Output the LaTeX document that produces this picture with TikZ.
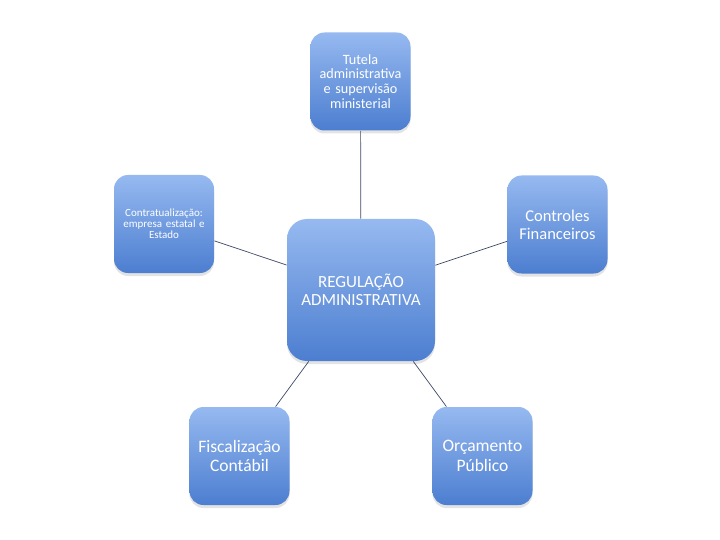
\documentclass[tikz,border=0pt]{standalone}
\usepackage{fontspec}
\setmainfont{Carlito}
\usetikzlibrary{shadows}
\definecolor{boxtop}{RGB}{150,185,240}
\definecolor{boxbot}{RGB}{76,126,208}
\definecolor{linkcol}{RGB}{60,72,100}

\begin{document}
\begin{tikzpicture}[x=1pt,y=-1pt,-,thick,
  box node/.style={rounded corners=14pt,top color=boxtop,bottom color=boxbot,draw=none,
    text=white,align=center,inner sep=2pt,
    drop shadow={opacity=0.22,shadow xshift=0pt,shadow yshift=-3pt}},
  small box/.style={box node,minimum width=99pt,minimum height=98pt,text width=96pt},
  link/.style={draw=linkcol,line width=0.7pt}]

            \useasboundingbox (0,0) rectangle (720,540);

            \node[box node,minimum width=148pt,minimum height=142pt,rounded corners=20pt,
              font=\fontsize{17}{18.5}\selectfont] (reg) at (361,290) {REGULAÇÃO\\ADMINISTRATIVA};
            \node[small box,font=\fontsize{14.2}{14.8}\selectfont] (tutela) at (360.5,81.5) {Tutela\\administrativa\\e supervisão\\ministerial};
            \node[small box,font=\fontsize{11}{10.8}\selectfont] (contrat) at (164,224) {Contratualização:\\empresa estatal e\\Estado};
            \node[small box,font=\fontsize{16.5}{18}\selectfont] (control) at (557.5,224.5) {Controles\\Financeiros};
            \node[small box,font=\fontsize{17.5}{19.7}\selectfont] (fiscal) at (239.5,456) {Fiscalização\\Contábil};
            \node[small box,font=\fontsize{17.5}{19.7}\selectfont] (orcam) at (482.5,456) {Orçamento\\Público};

            \draw[link] (reg) to (tutela);
            \draw[link] (reg) to (contrat);
            \draw[link] (reg) to (control);
            \draw[link] (reg) to (fiscal);
            \draw[link] (reg) to (orcam);
        \end{tikzpicture}
\end{document}
